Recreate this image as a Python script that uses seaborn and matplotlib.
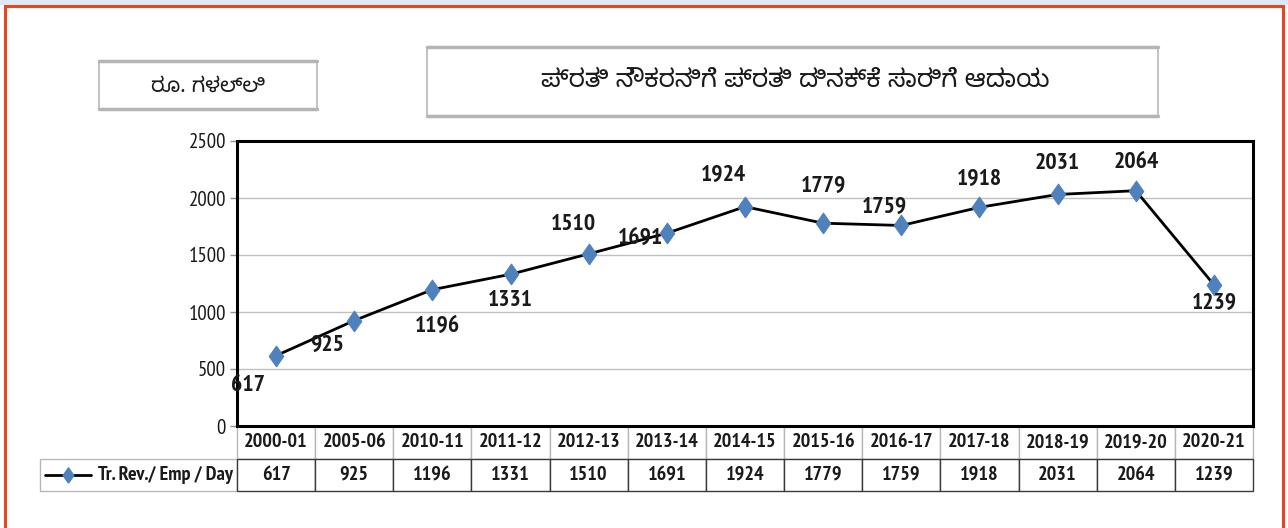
import matplotlib
matplotlib.use("Agg")
import matplotlib.pyplot as plt
import matplotlib.patches as mpatches
from matplotlib import font_manager
import seaborn as sns
import pandas as pd

# data
years = ["2000-01", "2005-06", "2010-11", "2011-12", "2012-13", "2013-14", "2014-15",
         "2015-16", "2016-17", "2017-18", "2018-19", "2019-20", "2020-21"]
rev_per_emp = [617, 925, 1196, 1331, 1510, 1691, 1924, 1779, 1759, 1918, 2031, 2064, 1239]
series_name = "Tr. Rev./ Emp / Day"
title = "ಪ್ರತಿ ನೌಕರನಿಗೆ ಪ್ರತಿ ದಿನಕ್ಕೆ ಸಾರಿಗೆ ಆದಾಯ"
unit = "ರೂ. ಗಳಲ್ಲಿ"
yticks = [0, 500, 1000, 1500, 2000, 2500]

# label offsets (pixels) as placed in the original chart
label_dx = [-28, -27, 5, 0, -15, -26, -22, 0, -17, 0, 0, 0, 0]
label_dy = [30, 25, 37, 26, -29, 5, -31, -37, -18, -28, -31, -28, 19]

# the original uses a narrow sans (bold for the numbers); take the first
# condensed family that also ships a real bold face
fonts = font_manager.fontManager.ttflist
bold_families = {f.name for f in fonts if isinstance(f.weight, int) and f.weight >= 600
                 or f.weight == "bold"}
candidates = ["Liberation Sans Narrow", "Arial Narrow", "PT Sans Narrow", "Archivo Narrow",
              "Roboto Condensed", "Open Sans Condensed", "Fira Sans Condensed",
              "IBM Plex Sans Condensed", "Barlow Condensed", "Encode Sans Condensed",
              "Liberation Sans"]
narrow = next((n for n in candidates if n in bold_families), "DejaVu Sans")

sns.set_style("white")
plt.rcParams["font.family"] = [narrow, "DejaVu Sans"]
KAN = ["Noto Sans Kannada", "DejaVu Sans"]
INK = "#1a1a1a"

W, H = 1288, 528
fig = plt.figure(figsize=(W / 100, H / 100), dpi=100)


def fx(px):
    return px / W


def fy(py):
    return 1 - py / H


# page frame
fig.patches.append(mpatches.Rectangle((0, fy(5)), 1, fy(0) - fy(5), transform=fig.transFigure,
                                      facecolor="#dce9f7", edgecolor="none", zorder=-5))
fig.patches.append(mpatches.Rectangle((fx(5), fy(540)), fx(1283) - fx(5), fy(6) - fy(540),
                                      transform=fig.transFigure, facecolor="none",
                                      edgecolor="#e8461e", lw=2.2, zorder=-5))

ax = fig.add_axes([fx(237), fy(426), fx(1253) - fx(237), fy(141) - fy(426)])

df = pd.DataFrame({"year": years, "rev": rev_per_emp})
diamond = [(0, -1), (0.7, 0), (0, 1), (-0.7, 0), (0, -1)]
sns.lineplot(data=df, x="year", y="rev", ax=ax, color="black", lw=2,
             marker=diamond, markersize=15, markerfacecolor="#4f81bd",
             markeredgecolor="#4f81bd", zorder=3)

ax.set_xlim(-0.5, len(years) - 0.5)
ax.set_ylim(0, 2500)
ax.set_yticks(yticks)
ax.set_xticks([])
ax.set_xlabel("")
ax.set_ylabel("")
ax.yaxis.grid(True, color="#c0c0c0", lw=1)
ax.tick_params(axis="y", length=5, width=1, color="#909090", labelsize=15, pad=3,
               left=True, labelcolor=INK)
for sp in ax.spines.values():
    sp.set_color("black")
    sp.set_linewidth(2.2)

for i, v in enumerate(rev_per_emp):
    ax.annotate(str(v), (i, v), xytext=(label_dx[i] * 0.72, -label_dy[i] * 0.72),
                textcoords="offset points", ha="center", va="center",
                fontsize=17, fontweight="bold", color=INK, zorder=4)

# data table under the axis, first column holds the legend entry
rlw = (237 - 40) / (1253 - 237)
th = (492 - 427) / (426 - 141)
tab = ax.table(cellText=[[series_name] + [str(v) for v in rev_per_emp]],
               colLabels=[""] + years,
               colWidths=[rlw] + [1 / len(years)] * len(years),
               cellLoc="center", bbox=[-rlw, -th, 1 + rlw, th])
tab.auto_set_font_size(False)
for (r, c), cell in tab.get_celld().items():
    cell.get_text().set_fontsize(14.5)
    cell.get_text().set_fontweight("bold")
    cell.get_text().set_color(INK)
    cell.set_linewidth(1)
    if r == 0 and c == 0:
        cell.visible_edges = ""
    elif r == 0 or c == 0:
        cell.set_edgecolor("#b8b8b8")
    else:
        cell.set_edgecolor("#3a3a3a")
legend_cell = tab[1, 0]
legend_cell.get_text().set_horizontalalignment("right")
legend_cell.PAD = 0.02

# legend key inside the first cell
ax.plot([-rlw + 0.005, -rlw + 0.05], [-th * 0.75, -th * 0.75], color="black", lw=2,
        transform=ax.transAxes, clip_on=False, zorder=5)
ax.plot([-rlw + 0.0275], [-th * 0.75], marker=diamond, markersize=11, color="#4f81bd",
        transform=ax.transAxes, clip_on=False, zorder=6)

# title box and unit box
fig.patches.append(mpatches.Rectangle((fx(427), fy(116)), fx(1158) - fx(427), fy(47) - fy(116),
                                      transform=fig.transFigure, facecolor="white",
                                      edgecolor="#c4c4c4", lw=1.5, zorder=1))
for yy in (47, 116):
    fig.lines.append(plt.Line2D([fx(427), fx(1158)], [fy(yy), fy(yy)], transform=fig.transFigure,
                                color="#b5b5b5", lw=2.5, zorder=2))
fig.text(fx(795), fy(80), title, family=KAN, fontsize=18, ha="center", va="center",
         color=INK)
fig.patches.append(mpatches.Rectangle((fx(99), fy(109)), fx(317) - fx(99), fy(61) - fy(109),
                                      transform=fig.transFigure, facecolor="white",
                                      edgecolor="#c4c4c4", lw=1.5, zorder=1))
for yy in (61, 109):
    fig.lines.append(plt.Line2D([fx(99), fx(317)], [fy(yy), fy(yy)], transform=fig.transFigure,
                                color="#b5b5b5", lw=2.5, zorder=2))
fig.text(fx(208), fy(86), unit, family=KAN, fontsize=15, ha="center", va="center",
         color=INK)

fig.savefig("out.png", dpi=100)
